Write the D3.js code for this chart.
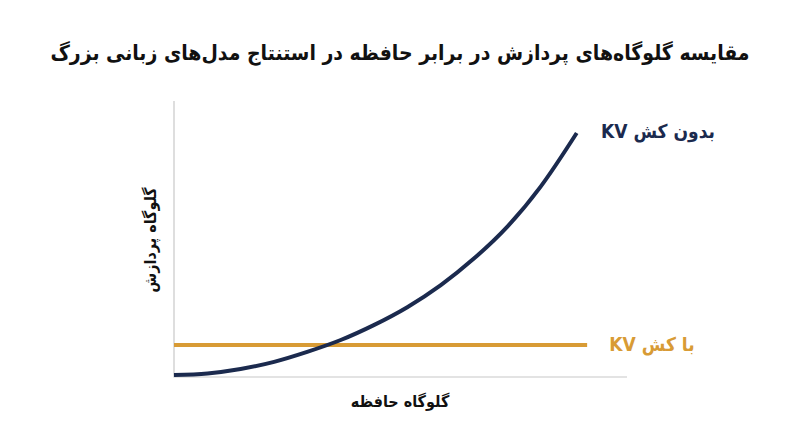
<!DOCTYPE html>
<html>
<head>
<meta charset="utf-8">
<script src="https://cdn.jsdelivr.net/npm/d3@7"></script>
<style>
  body { margin: 0; background: #fff; }
  svg text { font-family: "DejaVu Sans Condensed", "DejaVu Sans", sans-serif; font-weight: bold; }
</style>
</head>
<body>
<div id="chart"></div>
<script>
// memory bottleneck (x) vs compute bottleneck (y), arbitrary units 0-100
var title = "مقایسه گلوگاه‌های پردازش در برابر حافظه در استنتاج مدل‌های زبانی بزرگ";
var xLabel = "گلوگاه حافظه";
var yLabel = "گلوگاه پردازش";
var seriesNames = ["بدون کش KV", "با کش KV"];

var noCacheX = [0, 7.4, 14.7, 22.1, 29.4, 36.8, 44.1, 51.5, 58.9, 66.2, 73.6, 80.9, 88.9];
var noCacheY = [0.7, 1.3, 2.9, 5.5, 9.1, 13.4, 18.8, 25.3, 33.3, 42.9, 54.5, 68.9, 88.4];
var cacheX = [0, 91.2];
var cacheY = [11.6, 11.6];

var colors = ["#1b2a4e", "#d89b35"];

var width = 800, height = 447;

var svg = d3.select("#chart").append("svg")
    .attr("width", width)
    .attr("height", height);

var x = d3.scaleLinear().domain([0, 100]).range([174, 627]);
var y = d3.scaleLinear().domain([0, 100]).range([377, 101]);

// title
svg.append("text")
    .attr("x", 400)
    .attr("y", 60)
    .attr("text-anchor", "middle")
    .attr("direction", "rtl")
    .attr("font-size", 21)
    .attr("fill", "#111")
    .text(title);

// axes (plain lines, no ticks)
svg.append("path")
    .attr("d", "M" + x(0) + "," + y(100) + " L" + x(0) + "," + y(0) + " L" + x(100) + "," + y(0))
    .attr("stroke", "#c8c8c8")
    .attr("stroke-width", 1.2)
    .attr("fill", "none");

var line = d3.line()
    .x(function(d){ return x(d[0]); })
    .y(function(d){ return y(d[1]); })
    .curve(d3.curveCatmullRom.alpha(0.5));

svg.append("path")
    .datum(d3.zip(cacheX, cacheY))
    .attr("d", line)
    .attr("stroke", colors[1])
    .attr("stroke-width", 4)
    .attr("fill", "none");

svg.append("path")
    .datum(d3.zip(noCacheX, noCacheY))
    .attr("d", line)
    .attr("stroke", colors[0])
    .attr("stroke-width", 4)
    .attr("fill", "none");

// series labels
svg.append("text")
    .attr("x", 658)
    .attr("y", 138)
    .attr("text-anchor", "middle")
    .attr("direction", "rtl")
    .attr("font-size", 19)
    .attr("fill", colors[0])
    .text(seriesNames[0]);

svg.append("text")
    .attr("x", 652)
    .attr("y", 351)
    .attr("text-anchor", "middle")
    .attr("direction", "rtl")
    .attr("font-size", 19)
    .attr("fill", colors[1])
    .text(seriesNames[1]);

// axis titles
svg.append("text")
    .attr("x", 400)
    .attr("y", 407)
    .attr("text-anchor", "middle")
    .attr("direction", "rtl")
    .attr("font-size", 16)
    .attr("fill", "#111")
    .text(xLabel);

svg.append("text")
    .attr("transform", "translate(156,240) rotate(-90)")
    .attr("text-anchor", "middle")
    .attr("direction", "rtl")
    .attr("font-size", 16)
    .attr("fill", "#111")
    .text(yLabel);
</script>
</body>
</html>
